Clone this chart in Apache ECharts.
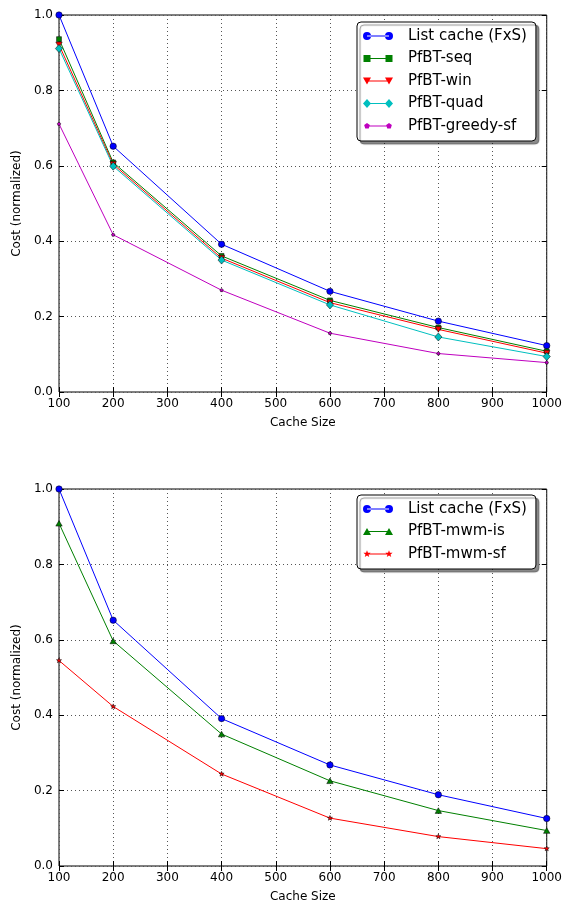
<!DOCTYPE html>
<html><head><meta charset="utf-8">
<script src="https://cdn.jsdelivr.net/npm/echarts@6/dist/echarts.min.js"></script>
<style>html,body{margin:0;padding:0;background:#fff}#c{width:565px;height:911px}</style>
</head><body><div id="c"></div><script>
// ---- data ----
const cacheSizes = [100, 200, 400, 600, 800, 1000];
const xTickValues = [100, 200, 300, 400, 500, 600, 700, 800, 900, 1000];
const yTickValues = [0.0, 0.2, 0.4, 0.6, 0.8, 1.0];
// top panel
const listCacheTop = [1.000, 0.652, 0.392, 0.267, 0.188, 0.123];
const pfbtSeq      = [0.936, 0.609, 0.361, 0.243, 0.171, 0.108];
const pfbtWin      = [0.921, 0.604, 0.355, 0.237, 0.166, 0.103];
const pfbtQuad     = [0.911, 0.599, 0.350, 0.231, 0.146, 0.094];
const pfbtGreedySf = [0.711, 0.417, 0.270, 0.156, 0.102, 0.078];
// bottom panel
const listCacheBottom = [1.000, 0.652, 0.391, 0.268, 0.189, 0.126];
const pfbtMwmIs       = [0.909, 0.597, 0.350, 0.226, 0.147, 0.094];
const pfbtMwmSf       = [0.545, 0.423, 0.244, 0.127, 0.078, 0.046];

const names = {
  list: 'List cache (FxS)', seq: 'PfBT-seq', win: 'PfBT-win', quad: 'PfBT-quad',
  greedy: 'PfBT-greedy-sf', mwmIs: 'PfBT-mwm-is', mwmSf: 'PfBT-mwm-sf'
};
const colors = { b: '#0000ff', g: '#008000', r: '#ff0000', c: '#00bfbf', m: '#bf00bf' };

// ---- symbol helpers (shapes only) ----
function polyPath(pts) {
  return 'M' + pts.map(p => p[0].toFixed(2) + ' ' + p[1].toFixed(2)).join('L') + 'Z';
}
function regPoly(cx, cy, r, n, rot) {
  const pts = [];
  for (let i = 0; i < n; i++) {
    const a = (rot + i * 360 / n) * Math.PI / 180;
    pts.push([cx + r * Math.cos(a), cy + r * Math.sin(a)]);
  }
  return pts;
}
function starPts(cx, cy, ro, ri) {
  const pts = [];
  for (let i = 0; i < 10; i++) {
    const a = (-90 + i * 36) * Math.PI / 180;
    const r = i % 2 === 0 ? ro : ri;
    pts.push([cx + r * Math.cos(a), cy + r * Math.sin(a)]);
  }
  return pts;
}
function circlePath(cx, cy, r) {
  return 'M' + (cx - r) + ' ' + cy + 'A' + r + ' ' + r + ' 0 1 0 ' + (cx + r) + ' ' + cy +
         'A' + r + ' ' + r + ' 0 1 0 ' + (cx - r) + ' ' + cy + 'Z';
}
const shapeFns = {
  circle: (cx, cy) => circlePath(cx, cy, 4),
  square: (cx, cy) => polyPath([[cx - 3.5, cy - 3.5], [cx + 3.5, cy - 3.5], [cx + 3.5, cy + 3.5], [cx - 3.5, cy + 3.5]]),
  tdown: (cx, cy) => polyPath([[cx - 4, cy - 3.5], [cx + 4, cy - 3.5], [cx, cy + 3.5]]),
  tup: (cx, cy) => polyPath([[cx, cy - 3.5], [cx + 4, cy + 3.5], [cx - 4, cy + 3.5]]),
  diamond: (cx, cy) => polyPath([[cx, cy - 4.5], [cx + 4, cy], [cx, cy + 4.5], [cx - 4, cy]]),
  pentagon: (cx, cy) => polyPath(regPoly(cx, cy, 3, 5, -90)),
  star: (cx, cy) => polyPath(starPts(cx, cy, 3.8, 1.6))
};
function legendIcon(shape) {
  const W = 30, H = 9, cy = 4.5;
  const line = 'M4 4L26 4L26 5L4 5Z';
  return 'path://M0 0M30 9' + line + shapeFns[shape](4, cy) + shapeFns[shape](26, cy);
}
function markerSymbol(shape) {
  return 'path://' + shapeFns[shape](5, 5) + 'M0 0M10 10';
}

const FONT = 'DejaVu Sans';
const grids = [
  { left: 59, top: 15, width: 489, height: 377, show: true, borderColor: '#000', borderWidth: 1, backgroundColor: '#fff' },
  { left: 59, top: 489, width: 489, height: 377, show: true, borderColor: '#000', borderWidth: 1, backgroundColor: '#fff' }
];
const splitStyle = { show: true, lineStyle: { color: '#555', width: 1, type: [1, 3] } };
function xAx(gi, pos) {
  const main = pos === 'bottom';
  return {
    type: 'value', gridIndex: gi, position: pos, min: 100, max: 1000, interval: 100,
    axisLine: { show: false },
    axisTick: { show: true, inside: true, length: 5, lineStyle: { color: '#000' } },
    axisLabel: { show: main, color: '#000', fontFamily: FONT, fontSize: 12, margin: 6,
                 formatter: v => (xTickValues.indexOf(v) >= 0 ? String(v) : '') },
    splitLine: main ? splitStyle : { show: false },
    name: main ? 'Cache Size' : '', nameLocation: 'middle', nameGap: 25,
    nameTextStyle: { color: '#000', fontFamily: FONT, fontSize: 12 }
  };
}
function yAx(gi, pos) {
  const main = pos === 'left';
  return {
    type: 'value', gridIndex: gi, position: pos, min: 0, max: 1, interval: 0.2,
    axisLine: { show: false },
    axisTick: { show: true, inside: true, length: 5, lineStyle: { color: '#000' } },
    axisLabel: { show: main, color: '#000', fontFamily: FONT, fontSize: 12, margin: 6,
                 formatter: v => v.toFixed(1) },
    splitLine: main ? splitStyle : { show: false },
    name: main ? 'Cost (normalized)' : '', nameLocation: 'middle', nameGap: 34, nameRotate: 90,
    nameTextStyle: { color: '#000', fontFamily: FONT, fontSize: 12 }
  };
}
function ser(name, data, color, shape, size, xi, yi) {
  return {
    name, type: 'line', xAxisIndex: xi, yAxisIndex: yi,
    data: cacheSizes.map((x, i) => [x, data[i]]),
    symbol: markerSymbol(shape), symbolSize: size,
    lineStyle: { color, width: 1 },
    itemStyle: { color, borderColor: '#000', borderWidth: 0.5 },
    emphasis: { disabled: true }, animation: false
  };
}
const legendBase = {
  orient: 'vertical', left: 357, itemWidth: 30, itemHeight: 9, itemGap: 6.5,
  backgroundColor: '#fff', borderColor: '#000', borderWidth: 1, borderRadius: 4,
  shadowColor: 'rgba(0,0,0,0.45)', shadowOffsetX: 3, shadowOffsetY: 3, shadowBlur: 1,
  padding: [6, 9, 7, 6],
  itemStyle: { borderWidth: 0 },
  textStyle: { color: '#000', fontFamily: FONT, fontSize: 15, lineHeight: 16, padding: [0, 0, 0, 10] },
  selectedMode: false
};

const option = {
  backgroundColor: '#fff',
  animation: false,
  grid: grids,
  xAxis: [xAx(0, 'bottom'), xAx(0, 'top'), xAx(1, 'bottom'), xAx(1, 'top')],
  yAxis: [yAx(0, 'left'), yAx(0, 'right'), yAx(1, 'left'), yAx(1, 'right')],
  legend: [
    Object.assign({}, legendBase, { top: 22, data: [
      { name: names.list, icon: legendIcon('circle') },
      { name: names.seq, icon: legendIcon('square') },
      { name: names.win, icon: legendIcon('tdown') },
      { name: names.quad, icon: legendIcon('diamond') },
      { name: names.greedy, icon: legendIcon('pentagon') }
    ] }),
    Object.assign({}, legendBase, { top: 495, data: [
      { name: names.list, icon: legendIcon('circle') },
      { name: names.mwmIs, icon: legendIcon('tup') },
      { name: names.mwmSf, icon: legendIcon('star') }
    ] })
  ],
  series: [
    ser(names.list, listCacheTop, colors.b, 'circle', 8, 0, 0),
    ser(names.seq, pfbtSeq, colors.g, 'square', 7, 0, 0),
    ser(names.win, pfbtWin, colors.r, 'tdown', 8, 0, 0),
    ser(names.quad, pfbtQuad, colors.c, 'diamond', 9, 0, 0),
    ser(names.greedy, pfbtGreedySf, colors.m, 'pentagon', 6, 0, 0),
    ser(names.list, listCacheBottom, colors.b, 'circle', 8, 2, 2),
    ser(names.mwmIs, pfbtMwmIs, colors.g, 'tup', 8, 2, 2),
    ser(names.mwmSf, pfbtMwmSf, colors.r, 'star', 7, 2, 2)
  ]
};
const chart = echarts.init(document.getElementById('c'), null, { renderer: 'canvas' });
chart.setOption(option);
</script></body></html>
